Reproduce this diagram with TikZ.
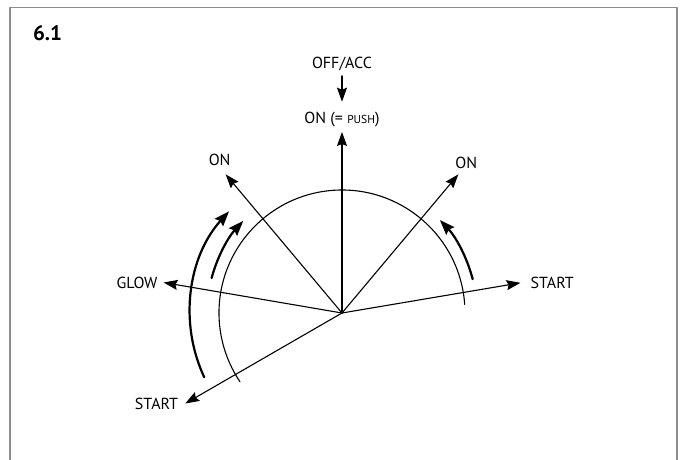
\documentclass[tikz,border=0pt]{standalone}
\usepackage{fontspec}
\setmainfont{PT Sans}
\usetikzlibrary{arrows.meta,positioning,calc}
\definecolor{framegray}{HTML}{8C8C8C}
\tikzset{
    poslab/.style={
        font=\fontsize{16}{19}\selectfont, inner sep=0pt, text depth=0pt
    },
    ray/.style={-{Stealth[length=14pt,width=10pt,inset=2pt]}, line width=1.1pt},
    turn/.style={-{Stealth[length=15pt,width=11pt,inset=2pt]}, line width=2.2pt}
}

\begin{document}
\begin{tikzpicture}[x=1pt,y=1pt, line cap=round, line join=round]
\useasboundingbox (-342,-147) rectangle (344,313);

% frame, open at the bottom
\draw[framegray, line width=1.6pt] (-332,-150) -- (-332,305.5) -- (335,305.5) -- (335,-150);
\node[font=\fontsize{21}{25}\selectfont\bfseries] (title) at (-294.5,279.7) {6.1};

\coordinate (hub) at (0,0);
\def\rlen{181}

% ray ends
\foreach \ang/\nm in {90/tipU,130/tipL,50/tipR,170.3/tipG,9.6/tipS,210/tipB} {
  \coordinate (\nm) at (\ang:\rlen);
}

% switch positions
\node[poslab, above=8pt of tipU] (onpush) {ON (= {\fontsize{11.5}{12}\selectfont PUSH})};
\node[poslab, above=44pt of onpush] (offacc) {OFF/ACC};
\node[poslab, above=9pt of tipL, xshift=-6pt] (onL) {ON};
\node[poslab, above=6pt of tipR, xshift=8pt] (onR) {ON};
\node[poslab, left=6pt of tipG] (glow) {GLOW};
\node[poslab, right=10pt of tipS] (startR) {START};
\node[poslab, left=7pt of tipB] (startL) {START};

\draw[ray, shorten <=7.7pt, shorten >=10.5pt] (offacc) -- (onpush);

\foreach \nm in {tipU,tipL,tipR,tipG,tipS,tipB} {
  \draw[ray] (hub) -- (\nm);
}

% dial
\draw[line width=1.1pt] (4:123) arc[start angle=4, end angle=214, radius=123];

% turning directions
\draw[turn] (205:152) arc[start angle=205, end angle=138, radius=152];
\draw[turn] (165:135) arc[start angle=165, end angle=137, radius=135];
\draw[turn] (14.5:135) arc[start angle=14.5, end angle=43.5, radius=135];

\end{tikzpicture}
\end{document}
